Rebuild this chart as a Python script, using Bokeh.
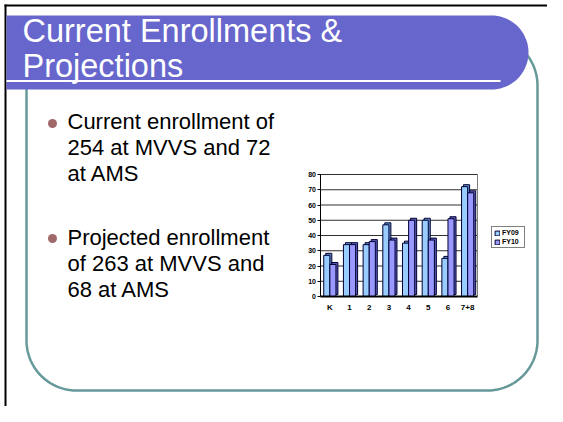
import numpy as np
from bokeh.plotting import figure
from bokeh.models import (Range1d, LinearAxis, FixedTicker, ColumnDataSource,
                          Legend, LegendItem)
from bokeh.transform import dodge
from bokeh.core.properties import value
from bokeh.embed import file_html
from bokeh.resources import INLINE

# ---------------- data ----------------
grades = ["K", "1", "2", "3", "4", "5", "6", "7+8"]
fy09 = [27, 34, 34, 47, 35, 50, 25, 72]
fy10 = [21, 34, 36, 37, 50, 37, 51, 68]
y_ticks = [0, 10, 20, 30, 40, 50, 60, 70, 80]
series_names = ["FY09", "FY10"]

title_lines = ["Current Enrollments &", "Projections"]
bullet1 = ["Current enrollment of", "254 at MVVS and 72", "at AMS"]
bullet2 = ["Projected enrollment", "of 263 at MVVS and", "68 at AMS"]

# ---------------- canvas ----------------
W, H = 547, 406
OX, OY = 0, 0  # canvas coords equal reference pixel coords

p = figure(width=W, height=H, x_range=Range1d(OX, OX + W), y_range=Range1d(OY + H, OY),
           x_axis_type=None, y_axis_type=None, min_border=0,
           outline_line_color=None, toolbar_location=None, output_backend="svg",
           background_fill_color="white", border_fill_color="white")

FONT = "Liberation Sans"

# slide border (left / top)
p.line([5, 5], [4, OY + H], line_color="black", line_width=2)
p.line([4, OX + W], [5, 5], line_color="black", line_width=2)

# teal rounded content frame
def rounded_rect(l, t, r, b, rad, m=24):
    xs, ys = [], []
    for cx, cy, a0, a1 in [(r - rad, t + rad, -90, 0), (r - rad, b - rad, 0, 90),
                           (l + rad, b - rad, 90, 180), (l + rad, t + rad, 180, 270)]:
        ang = np.radians(np.linspace(a0, a1, m))
        xs.extend(cx + rad * np.cos(ang))
        ys.extend(cy + rad * np.sin(ang))
    xs.append(xs[0]); ys.append(ys[0])
    return xs, ys

fx, fy = rounded_rect(26, 35, 537, 390, 50)
p.patch(fx, fy, fill_color="white", line_color="#669999", line_width=2.5)

# title banner (pill-shaped right end)
bl, bt, bb, br = 6, 15, 89, 491
rad = (bb - bt) / 2
ang = np.radians(np.linspace(-90, 90, 40))
bx = [bl] + list(br + rad * np.cos(ang)) + [bl]
by = [bt] + list((bt + rad) + rad * np.sin(ang)) + [bb]
p.patch(bx, by, fill_color="#6666CC", line_color=None)
p.line([6, 500], [80.5, 80.5], line_color="white", line_width=2)

p.text(x=[22, 22], y=[30, 65], text=title_lines, text_color="white",
       text_font=value(FONT), text_font_size="32.5px", text_baseline="alphabetic")

# bullets
p.scatter(x=[52, 52], y=[123, 238], size=9, marker="circle",
          fill_color="#A06868", line_color=None)
p.text(x=[67] * 3, y=[121, 146.5, 172.5], text=bullet1, text_color="black",
       text_font=value(FONT), text_font_size="22px", text_baseline="alphabetic")
p.text(x=[67] * 3, y=[236.5, 262.5, 288.5], text=bullet2, text_color="black",
       text_font=value(FONT), text_font_size="22px", text_baseline="alphabetic")

# ---------------- chart (extra ranges placed inside canvas) ----------------
n = len(grades)
CL, CR = 319.5, 477.0   # pixel edges of category range
C0, CT = 296.0, 174.0   # pixel y of 0 and of top tick
sx = n / (CR - CL)
x_start = -0.5 - (CL - OX) * sx
p.extra_x_ranges = {"cx": Range1d(x_start, x_start + W * sx)}
ymax = y_ticks[-1]
sy = ymax / (C0 - CT)
y_start = 0 - (OY + H - C0) * sy
p.extra_y_ranges = {"cy": Range1d(y_start, y_start + H * sy)}

kw = dict(x_range_name="cx", y_range_name="cy")

# back-wall gridlines and right wall edge
p.segment(x0=[-0.5] * (len(y_ticks) - 1), x1=[n - 0.5] * (len(y_ticks) - 1),
          y0=y_ticks[1:], y1=y_ticks[1:], line_color="#303030", line_width=1, **kw)
p.segment(x0=[n - 0.5], x1=[n - 0.5], y0=[0], y1=[ymax],
          line_color="#808080", line_width=1, **kw)

src = ColumnDataSource(dict(idx=list(range(n)), fy09=fy09, fy10=fy10))

BW, OFF, DX, DY = 0.31, 0.155, 0.1, 1.3
styles = [("fy09", -OFF, "#99CCFF", "#5F8FC8"), ("fy10", OFF, "#9999FF", "#5C5CB8")]
for field, off, front, side in styles:
    p.vbar(x=dodge("idx", off + DX), top=dodge(field, DY), bottom=DY, width=BW,
           source=src, fill_color=side, line_color="#000033", line_width=1, **kw)
front_r = []
for field, off, front, side in styles:
    r = p.vbar(x=dodge("idx", off), top=field, bottom=0, width=BW, source=src,
               fill_color=front, line_color="#000033", line_width=1, **kw)
    front_r.append(r)

yaxis = LinearAxis(fixed_location=-0.5, bounds=(0, ymax),
                   ticker=FixedTicker(ticks=y_ticks, minor_ticks=[]),
                   axis_line_color="black", axis_line_width=1,
                   major_tick_out=3, major_tick_in=0, minor_tick_out=0, minor_tick_in=0,
                   major_tick_line_color="black", major_label_standoff=1,
                   major_label_text_font=FONT, major_label_text_font_size="7px",
                   major_label_text_font_style="bold", major_label_text_color="black", **kw)
p.add_layout(yaxis, "left")

xaxis = LinearAxis(fixed_location=0, bounds=(-0.5, n - 0.5),
                   ticker=FixedTicker(ticks=list(range(n)), minor_ticks=[]),
                   major_label_overrides={i: g for i, g in enumerate(grades)},
                   axis_line_color="black", axis_line_width=2,
                   major_tick_out=0, major_tick_in=0, minor_tick_out=0, minor_tick_in=0,
                   major_label_standoff=6,
                   major_label_text_font=FONT, major_label_text_font_size="8px",
                   major_label_text_font_style="bold", major_label_text_color="black", **kw)
p.add_layout(xaxis, "below")

legend = Legend(items=[LegendItem(label=series_names[0], renderers=[front_r[0]]),
                       LegendItem(label=series_names[1], renderers=[front_r[1]])],
                location=(491, H - 248), orientation="vertical",
                label_text_font=FONT, label_text_font_size="7px",
                label_text_font_style="bold", label_text_color="black",
                glyph_width=6, glyph_height=6, label_height=7, label_standoff=2,
                spacing=2, padding=2, margin=0,
                border_line_color="black", border_line_width=1,
                background_fill_color="white", background_fill_alpha=1)
p.add_layout(legend)

open("out.html", "w").write(file_html(p, INLINE))
